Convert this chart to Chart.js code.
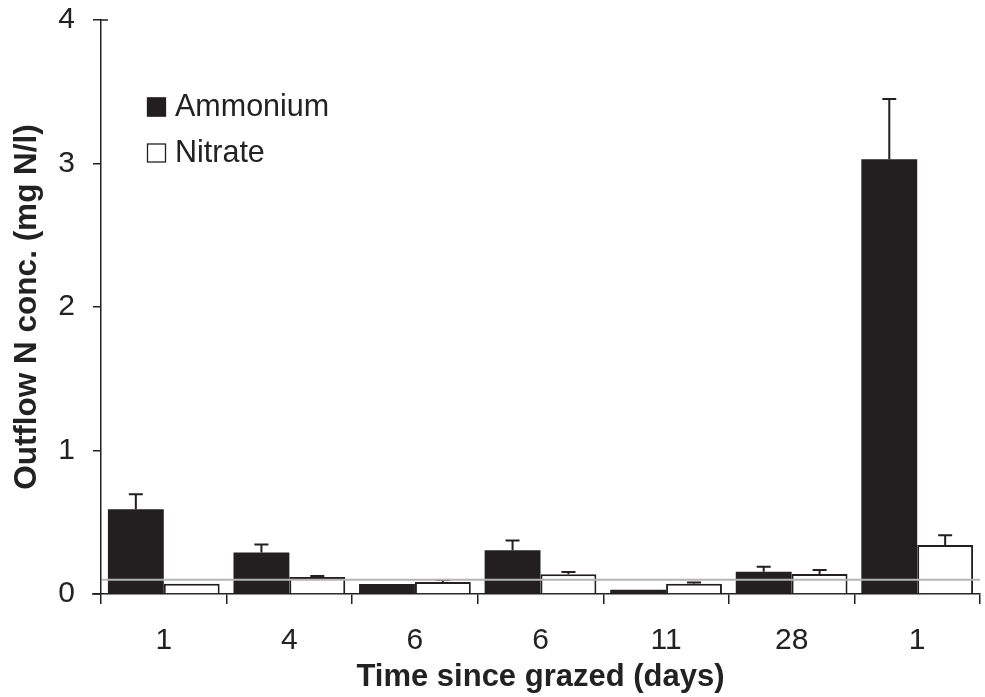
<!DOCTYPE html>
<html>
<head>
<meta charset="utf-8">
<script src="https://cdn.jsdelivr.net/npm/chart.js@4"></script>
<style>
  html, body { margin: 0; padding: 0; background: #fff; }
  #wrap { width: 985px; height: 697px; }
</style>
</head>
<body>
<div id="wrap"><canvas id="chart" width="985" height="697"></canvas></div>
<script>
// Data
const days = ['1', '4', '6', '6', '11', '28', '1'];
const ammonium = [0.59, 0.29, 0.07, 0.305, 0.03, 0.155, 3.03];
const ammoniumErr = [0.105, 0.055, 0, 0.067, 0, 0.035, 0.42];
const nitrate = [0.072, 0.118, 0.084, 0.137, 0.072, 0.139, 0.341];
const nitrateErr = [0, 0.007, 0.013, 0.016, 0.009, 0.028, 0.068];
const yTicks = [0, 1, 2, 3, 4];
const refLine = 0.1;

const INK = '#231f20';
const FONT = '"Liberation Sans", Arial, sans-serif';

// error bars, grey reference line, legend, axis details
const extras = {
    id: 'extras',
    afterDatasetsDraw(chart) {
        const { ctx, chartArea, scales } = chart;
        const y = scales.y;
        const errs = [ammoniumErr, nitrateErr];

        ctx.save();
        ctx.strokeStyle = INK;
        ctx.lineWidth = 2;
        chart.data.datasets.forEach((ds, di) => {
            const meta = chart.getDatasetMeta(di);
            meta.data.forEach((bar, i) => {
                const e = errs[di][i];
                if (!e) return;
                const top = y.getPixelForValue(ds.data[i] + e);
                ctx.beginPath();
                ctx.moveTo(bar.x, bar.y);
                ctx.lineTo(bar.x, top);
                ctx.moveTo(bar.x - 7, top);
                ctx.lineTo(bar.x + 7, top);
                ctx.stroke();
            });
        });

        // grey line
        const ry = y.getPixelForValue(refLine);
        ctx.strokeStyle = '#b4b4b4';
        ctx.lineWidth = 2;
        ctx.beginPath();
        ctx.moveTo(chartArea.left + 1, ry);
        ctx.lineTo(chartArea.right, ry);
        ctx.stroke();

        // x axis line runs a little left of the y axis; top tick crosses axis
        ctx.strokeStyle = INK;
        ctx.lineWidth = 1.5;
        const by = y.getPixelForValue(0);
        ctx.beginPath();
        ctx.moveTo(chartArea.left - 9, by);
        ctx.lineTo(chartArea.left, by);
        const ty = y.getPixelForValue(4);
        ctx.moveTo(chartArea.left, ty);
        ctx.lineTo(chartArea.left + 7, ty);
        ctx.stroke();

        // legend
        const items = [
            { label: chart.data.datasets[0].label, fill: INK },
            { label: chart.data.datasets[1].label, fill: '#fff' }
        ];
        ctx.font = '30.5px ' + FONT;
        ctx.textBaseline = 'middle';
        items.forEach((it, k) => {
            const cy = 107 + k * 46;
            ctx.fillStyle = it.fill;
            ctx.fillRect(147, cy - 9.5, 19, 19);
            ctx.strokeStyle = INK;
            ctx.lineWidth = 1.3;
            ctx.strokeRect(147.5, cy - 9, 18, 18);
            ctx.fillStyle = '#222';
            ctx.fillText(it.label, 175, cy + 1);
        });
        ctx.restore();
    }
};

new Chart(document.getElementById('chart'), {
    type: 'bar',
    data: {
        labels: days,
        datasets: [{
            label: 'Ammonium',
            data: ammonium,
            backgroundColor: INK,
            borderColor: INK,
            borderWidth: 0
        }, {
            label: 'Nitrate',
            data: nitrate,
            backgroundColor: '#ffffff',
            borderColor: INK,
            borderWidth: 2,
            borderSkipped: 'bottom'
        }]
    },
    options: {
        responsive: false,
        animation: false,
        events: [],
        datasets: {
            bar: { categoryPercentage: 0.89, barPercentage: 1.0 }
        },
        layout: { padding: { top: 20, right: 5, left: 0, bottom: 0 } },
        plugins: {
            legend: { display: false },
            tooltip: { enabled: false }
        },
        scales: {
            x: {
                offset: true,
                grid: {
                    display: true,
                    offset: true,
                    drawOnChartArea: false,
                    drawTicks: true,
                    tickLength: 10,
                    color: INK,
                    lineWidth: 1.5
                },
                border: { display: true, color: INK, width: 1.5 },
                ticks: {
                    color: '#222',
                    padding: 19,
                    font: { family: FONT, size: 30 }
                },
                title: {
                    display: true,
                    text: 'Time since grazed (days)',
                    color: '#222',
                    font: { family: FONT, size: 31, weight: 'bold' },
                    padding: { top: 0, bottom: 1 }
                },
                afterFit(scale) {
                    scale.height = 103;
                    scale.paddingLeft = 0;
                    scale.paddingRight = 0;
                }
            },
            y: {
                min: 0,
                max: 4,
                afterBuildTicks(scale) {
                    scale.ticks = yTicks.map(v => ({ value: v }));
                },
                grid: {
                    display: true,
                    drawOnChartArea: false,
                    drawTicks: true,
                    tickLength: 8,
                    color: INK,
                    lineWidth: 1.5
                },
                border: { display: true, color: INK, width: 1.5 },
                ticks: {
                    color: '#222',
                    padding: 18,
                    font: { family: FONT, size: 30 }
                },
                title: {
                    display: true,
                    text: 'Outflow N conc. (mg N/l)',
                    color: '#222',
                    font: { family: FONT, size: 31.5, weight: 'bold' },
                    padding: { top: 8, bottom: 0 }
                },
                afterFit(scale) {
                    scale.width = 101;
                    scale.paddingTop = 0;
                    scale.paddingBottom = 0;
                }
            }
        }
    },
    plugins: [extras]
});
</script>
</body>
</html>
